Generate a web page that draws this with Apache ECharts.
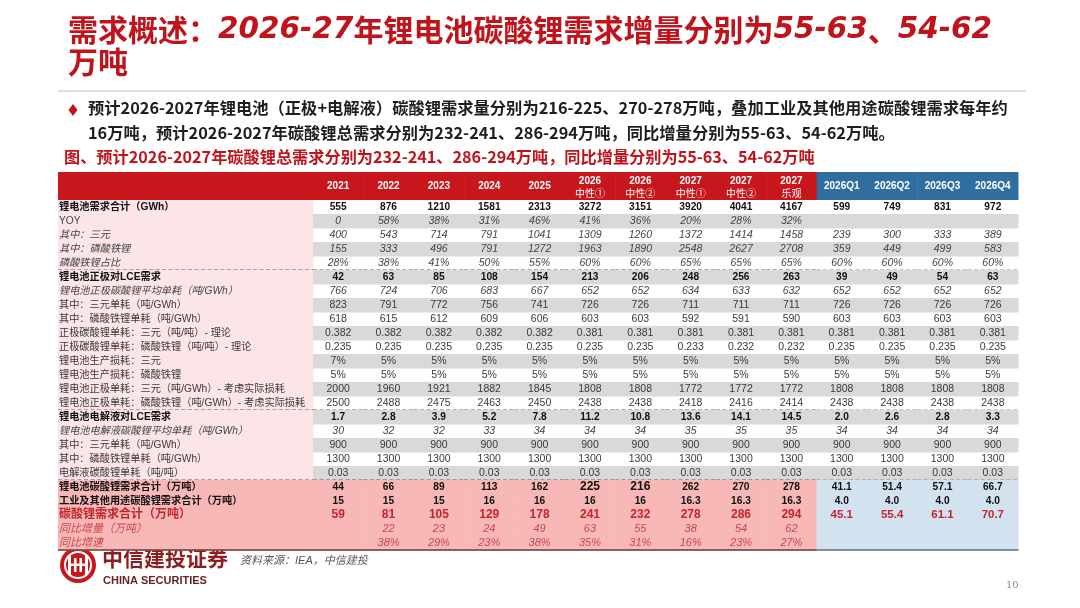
<!DOCTYPE html>
<html><head><meta charset="utf-8">
<script src="https://cdn.jsdelivr.net/npm/echarts@6/dist/echarts.min.js"></script>
<style>html,body{margin:0;padding:0;background:#fff}#c{width:1080px;height:608px}</style>
</head><body><div id="c"></div>
<script>
// ---------- DATA ----------
const columns = ['2021','2022','2023','2024','2025','2026\n中性①','2026\n中性②','2027\n中性①','2027\n中性②','2027\n乐观','2026Q1','2026Q2','2026Q3','2026Q4'];
const rowLabels = [
  '锂电池需求合计（GWh）','YOY','其中：三元','其中：磷酸铁锂','磷酸铁锂占比',
  '锂电池正极对LCE需求','锂电池正极碳酸锂平均单耗（吨/GWh）','其中：三元单耗（吨/GWh）','其中：磷酸铁锂单耗（吨/GWh）',
  '正极碳酸锂单耗：三元（吨/吨）- 理论','正极碳酸锂单耗：磷酸铁锂（吨/吨）- 理论','锂电池生产损耗：三元','锂电池生产损耗：磷酸铁锂',
  '锂电池正极单耗：三元（吨/GWh）- 考虑实际损耗','锂电池正极单耗：磷酸铁锂（吨/GWh）- 考虑实际损耗',
  '锂电池电解液对LCE需求','锂电池电解液碳酸锂平均单耗（吨/GWh）','其中：三元单耗（吨/GWh）','其中：磷酸铁锂单耗（吨/GWh）','电解液碳酸锂单耗（吨/吨）',
  '锂电池碳酸锂需求合计（万吨）','工业及其他用途碳酸锂需求合计（万吨）','碳酸锂需求合计（万吨）','同比增量（万吨）','同比增速'
];
const batteryDemand   = ['555','876','1210','1581','2313','3272','3151','3920','4041','4167','599','749','831','972'];
const batteryYoy      = ['0','58%','38%','31%','46%','41%','36%','20%','28%','32%','','','',''];
const ncmGWh          = ['400','543','714','791','1041','1309','1260','1372','1414','1458','239','300','333','389'];
const lfpGWh          = ['155','333','496','791','1272','1963','1890','2548','2627','2708','359','449','499','583'];
const lfpShare        = ['28%','38%','41%','50%','55%','60%','60%','65%','65%','65%','60%','60%','60%','60%'];
const cathodeLCE      = ['42','63','85','108','154','213','206','248','256','263','39','49','54','63'];
const cathodeAvgUse   = ['766','724','706','683','667','652','652','634','633','632','652','652','652','652'];
const ncmCathodeUse   = ['823','791','772','756','741','726','726','711','711','711','726','726','726','726'];
const lfpCathodeUse   = ['618','615','612','609','606','603','603','592','591','590','603','603','603','603'];
const ncmTheory       = ['0.382','0.382','0.382','0.382','0.382','0.381','0.381','0.381','0.381','0.381','0.381','0.381','0.381','0.381'];
const lfpTheory       = ['0.235','0.235','0.235','0.235','0.235','0.235','0.235','0.233','0.232','0.232','0.235','0.235','0.235','0.235'];
const ncmLoss         = ['7%','5%','5%','5%','5%','5%','5%','5%','5%','5%','5%','5%','5%','5%'];
const lfpLoss         = ['5%','5%','5%','5%','5%','5%','5%','5%','5%','5%','5%','5%','5%','5%'];
const ncmActual       = ['2000','1960','1921','1882','1845','1808','1808','1772','1772','1772','1808','1808','1808','1808'];
const lfpActual       = ['2500','2488','2475','2463','2450','2438','2438','2418','2416','2414','2438','2438','2438','2438'];
const electrolyteLCE  = ['1.7','2.8','3.9','5.2','7.8','11.2','10.8','13.6','14.1','14.5','2.0','2.6','2.8','3.3'];
const elecAvgUse      = ['30','32','32','33','34','34','34','35','35','35','34','34','34','34'];
const ncmElecUse      = ['900','900','900','900','900','900','900','900','900','900','900','900','900','900'];
const lfpElecUse      = ['1300','1300','1300','1300','1300','1300','1300','1300','1300','1300','1300','1300','1300','1300'];
const elecUnit        = ['0.03','0.03','0.03','0.03','0.03','0.03','0.03','0.03','0.03','0.03','0.03','0.03','0.03','0.03'];
const batteryLi2CO3   = ['44','66','89','113','162','225','216','262','270','278','41.1','51.4','57.1','66.7'];
const otherLi2CO3     = ['15','15','15','16','16','16','16','16.3','16.3','16.3','4.0','4.0','4.0','4.0'];
const totalLi2CO3     = ['59','81','105','129','178','241','232','278','286','294','45.1','55.4','61.1','70.7'];
const yoyIncrement    = ['','22','23','24','49','63','55','38','54','62','','','',''];
const yoyGrowth       = ['','38%','29%','23%','38%','35%','31%','16%','23%','27%','','','',''];

const rows = [batteryDemand, batteryYoy, ncmGWh, lfpGWh, lfpShare, cathodeLCE, cathodeAvgUse, ncmCathodeUse, lfpCathodeUse,
  ncmTheory, lfpTheory, ncmLoss, lfpLoss, ncmActual, lfpActual, electrolyteLCE, elecAvgUse, ncmElecUse, lfpElecUse, elecUnit,
  batteryLi2CO3, otherLi2CO3, totalLi2CO3, yoyIncrement, yoyGrowth];

// ---------- STYLE ----------
const rowStyle = ['bold','yoy','italic','italic','italic','bold','italic','normal','normal','normal','normal','normal','normal','normal','normal',
  'bold','italic','normal','normal','normal','bold','bold','total','redItalic','redItalic'];
const RED = '#C8161D', BLUE = '#2F6E9E', GRAY = '#D9D9D9', PINK_L = '#FCE5E6', PINK = '#F8B8B8', LBLUE = '#D2E2EF';
const FONT = '"Liberation Sans", Arial, "Noto Sans CJK SC", sans-serif';
const dashedAfter = [4, 14, 19];
const lastRow = 24;

function styleFor(key, isLabel) {
  switch (key) {
    case 'bold': return {fontWeight: 'bold', fontStyle: 'normal', fill: '#111', fontSize: 10.2};
    case 'yoy': return {fontWeight: 'normal', fontStyle: isLabel ? 'normal' : 'italic', fill: '#444', fontSize: isLabel ? 10.2 : 10.5};
    case 'italic': return {fontWeight: 'normal', fontStyle: 'italic', fill: '#444', fontSize: isLabel ? 10.2 : 10.5};
    case 'total': return {fontWeight: 'bold', fontStyle: 'normal', fill: '#C4262C', fontSize: 12};
    case 'redItalic': return {fontWeight: 'normal', fontStyle: 'italic', fill: '#C8474A', fontSize: 11};
    default: return {fontWeight: 'normal', fontStyle: 'normal', fill: '#3a3a3a', fontSize: isLabel ? 10.2 : 10.5};
  }
}

const yCats = ['h1', 'h2'].concat(rowLabels.map((_, i) => 'r' + i));
const labelData = [[0, 0]].concat(rowLabels.map((_, i) => [0, i + 2]));
const cellData = [];
columns.forEach((c, ci) => { cellData.push([ci, 0]); rows.forEach((_, ri) => cellData.push([ci, ri + 2])); });

function borderLines(x0, w, yb, r, colorD, colorS) {
  const out = [];
  if (dashedAfter.indexOf(r) >= 0) {
    out.push({type: 'line', shape: {x1: x0, y1: yb, x2: x0 + w, y2: yb}, style: {stroke: colorD, lineWidth: 1, lineDash: [4, 2.5]}});
  }
  if (r === lastRow) {
    out.push({type: 'line', shape: {x1: x0, y1: yb, x2: x0 + w, y2: yb}, style: {stroke: colorS, lineWidth: 1.6}});
  }
  return out;
}

function renderLabel(params, api) {
  const yi = api.value(1);
  const c = api.coord([0, yi]);
  const s = api.size([1, 1]);
  const w = s[0], h = s[1], x0 = c[0] - w / 2;
  if (yi === 0) {
    return {type: 'rect', shape: {x: x0, y: c[1] - h / 2, width: w + 0.5, height: 2 * h}, style: {fill: RED}};
  }
  const r = yi - 2;
  const st = styleFor(rowStyle[r], true);
  const children = [
    {type: 'rect', shape: {x: x0, y: c[1] - h / 2, width: w + 0.5, height: h + 0.5}, style: {fill: r >= 20 ? PINK : PINK_L}},
    {type: 'text', style: Object.assign({text: rowLabels[r], x: x0 + 1, y: c[1], align: 'left', verticalAlign: 'middle', fontFamily: FONT}, st)}
  ];
  return {type: 'group', children: children.concat(borderLines(x0, w + 0.5, c[1] + h / 2, r, '#7a4848', '#6e3a3a'))};
}

function renderCell(params, api) {
  const ci = api.value(0), yi = api.value(1);
  const c = api.coord([ci, yi]);
  const s = api.size([1, 1]);
  const w = s[0], h = s[1], x0 = c[0] - w / 2;
  const blue = ci >= 10;
  if (yi === 0) {
    const lines = columns[ci].split('\n');
    const ch = [{type: 'rect', shape: {x: x0, y: c[1] - h / 2, width: w + 0.5, height: 2 * h}, style: {fill: blue ? BLUE : RED}}];
    const base = {fill: '#fff', fontWeight: 'bold', fontSize: 10, fontFamily: FONT, align: 'center', verticalAlign: 'middle'};
    if (lines.length === 1) {
      ch.push({type: 'text', style: Object.assign({text: lines[0], x: c[0], y: c[1] + h / 2}, base)});
    } else {
      ch.push({type: 'text', style: Object.assign({text: lines[0], x: c[0], y: c[1] + 2}, base)});
      ch.push({type: 'text', style: Object.assign({}, base, {text: lines[1], x: c[0], y: c[1] + h + 1, fontWeight: 'normal'})});
    }
    return {type: 'group', children: ch};
  }
  const r = yi - 2;
  const st = styleFor(rowStyle[r], false);
  if (r === 20 && (ci === 5 || ci === 6)) st.fontSize = 12;
  if (r === 22 && ci >= 10) st.fontSize = 11.5;
  let fill = null;
  if (r >= 20) fill = blue ? LBLUE : PINK;
  else if (r % 2 === 1) fill = GRAY;
  const children = [];
  if (fill) children.push({type: 'rect', shape: {x: x0, y: c[1] - h / 2, width: w + 0.5, height: h + 0.5}, style: {fill: fill}});
  children.push({type: 'text', style: Object.assign({text: rows[r][ci], x: c[0], y: c[1], align: 'center', verticalAlign: 'middle', fontFamily: FONT}, st)});
  return {type: 'group', children: children.concat(borderLines(x0, w + 0.5, c[1] + h / 2, r, blue ? '#7d8b99' : '#8a4545', blue ? '#5f6f7f' : '#6e3a3a'))};
}

const CJK = '"Noto Sans CJK SC", sans-serif';
const chart = echarts.init(document.getElementById('c'), null, {renderer: 'canvas'});
chart.setOption({
  animation: false,
  backgroundColor: '#fff',
  grid: [
    {left: 58, width: 255, top: 172, height: 378},
    {left: 313, width: 705, top: 172, height: 378}
  ],
  xAxis: [
    {type: 'category', gridIndex: 0, data: ['label'], show: false},
    {type: 'category', gridIndex: 1, data: columns, show: false}
  ],
  yAxis: [
    {type: 'category', gridIndex: 0, data: yCats, inverse: true, show: false},
    {type: 'category', gridIndex: 1, data: yCats, inverse: true, show: false}
  ],
  series: [
    {type: 'custom', xAxisIndex: 0, yAxisIndex: 0, data: labelData, renderItem: renderLabel, silent: true},
    {type: 'custom', xAxisIndex: 1, yAxisIndex: 1, data: cellData, renderItem: renderCell, silent: true}
  ],
  graphic: [
    {type: 'text', left: 68, top: 15, style: {
      text: '需求概述：{d|2026-27}年锂电池碳酸锂需求增量分别为{d|55-63}、{d|54-62}',
      fill: '#C0141C', font: 'bold 30px ' + CJK,
      rich: {d: {fontFamily: '"DejaVu Sans", sans-serif', fontStyle: 'italic', fontWeight: 'bold', fontSize: 29.5, fill: '#C0141C'}}
    }},
    {type: 'text', left: 68, top: 47, style: {text: '万吨', fill: '#C0141C', font: 'bold 30px ' + CJK}},
    {type: 'line', shape: {x1: 58, y1: 91, x2: 1026, y2: 91}, style: {stroke: '#BDBDBD', lineWidth: 1}},
    {type: 'polygon', shape: {points: [[73, 104], [77.5, 110], [73, 116], [68.5, 110]]}, style: {fill: '#C0141C'}},
    {type: 'text', left: 88, top: 100, style: {text: '预计2026-2027年锂电池（正极+电解液）碳酸锂需求量分别为216-225、270-278万吨，叠加工业及其他用途碳酸锂需求每年约', fill: '#1e1e1e', font: 'bold 16.3px ' + CJK}},
    {type: 'text', left: 88, top: 125, style: {text: '16万吨，预计2026-2027年碳酸锂总需求分别为232-241、286-294万吨，同比增量分别为55-63、54-62万吨。', fill: '#1e1e1e', font: 'bold 16.3px ' + CJK}},
    {type: 'text', left: 64, top: 149, style: {text: '图、预计2026-2027年碳酸锂总需求分别为232-241、286-294万吨，同比增量分别为55-63、54-62万吨', fill: '#C0141C', font: 'bold 16.2px ' + CJK}},
    // logo
    {type: 'group', left: 60, top: 547, children: [
      {type: 'circle', shape: {cx: 18, cy: 19, r: 18}, style: {fill: '#C8161D'}},
      {type: 'arc', shape: {cx: 18, cy: 19, r: 13, startAngle: 0, endAngle: Math.PI * 2}, style: {stroke: '#fff', lineWidth: 2, fill: null}},
      {type: 'rect', shape: {x: 8, y: 9, width: 3, height: 20}, style: {fill: '#fff'}},
      {type: 'rect', shape: {x: 25, y: 9, width: 3, height: 20}, style: {fill: '#fff'}},
      {type: 'rect', shape: {x: 14, y: 12, width: 2.5, height: 14}, style: {fill: '#fff'}},
      {type: 'rect', shape: {x: 19.5, y: 12, width: 2.5, height: 14}, style: {fill: '#fff'}},
      {type: 'rect', shape: {x: 11, y: 17.5, width: 14, height: 2.5}, style: {fill: '#fff'}}
    ]},
    {type: 'text', left: 102, top: 548, style: {text: '中信建投证券', fill: '#8f1d1d', font: 'bold 21px ' + CJK}},
    {type: 'text', left: 103, top: 575, style: {text: 'CHINA SECURITIES', fill: '#6b2222', font: 'bold 11px "Liberation Sans", Arial, sans-serif'}},
    {type: 'text', left: 240, top: 555, style: {text: '资料来源：IEA，中信建投', fill: '#555', font: 'italic 11px "Liberation Sans", ' + CJK}},
    {type: 'text', left: 1006, top: 580, style: {text: '10', fill: '#888', font: '10px "DejaVu Serif", serif'}}
  ]
});
</script>
</body></html>
